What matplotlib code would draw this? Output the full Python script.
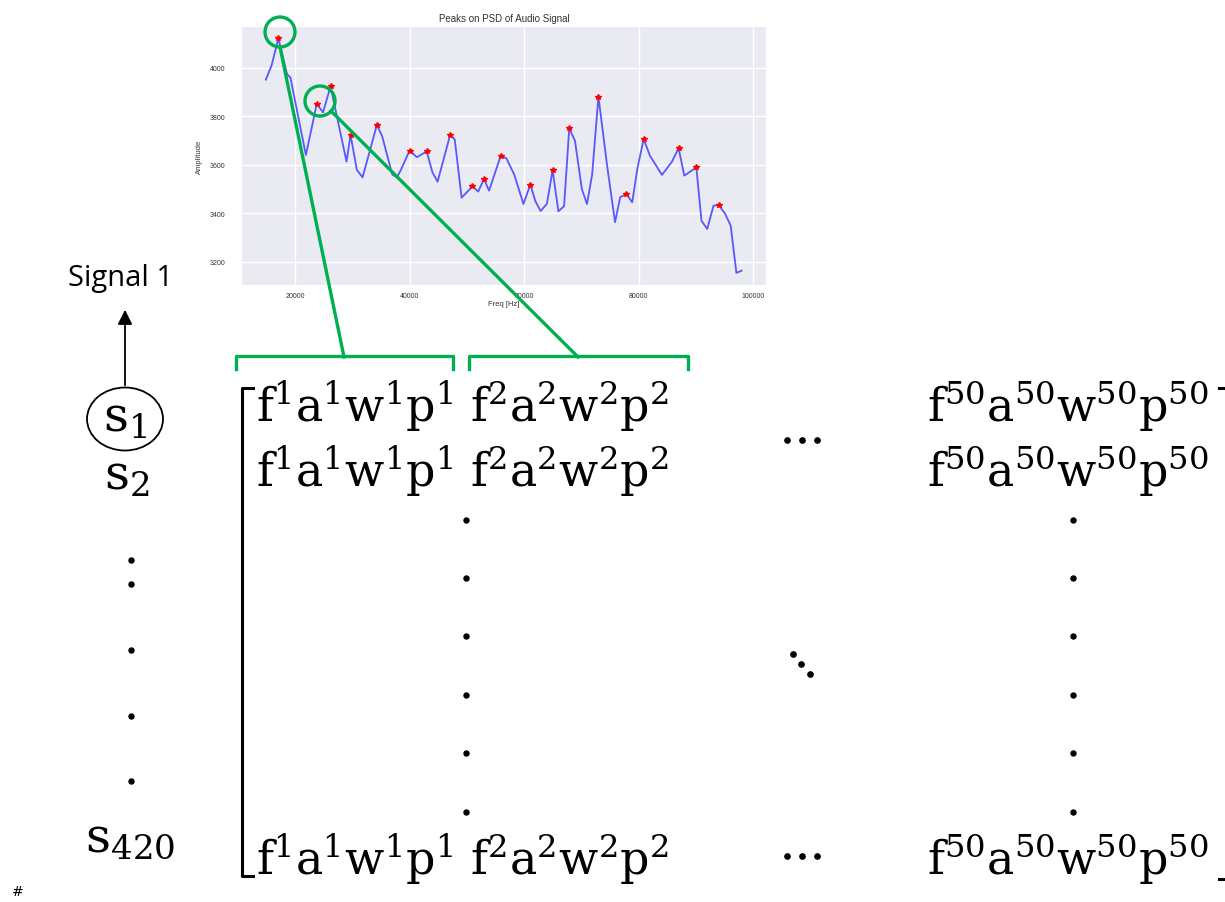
import numpy as np
import matplotlib.pyplot as plt
from matplotlib.patches import Ellipse, Circle

# PSD curve
freq = [14900, 15900, 17100, 18600, 19200, 21900, 23800, 24900, 26200, 29000,
        29700, 30800, 31800, 34300, 35200, 37000, 37800, 38500, 40000, 41300,
        43000, 44000, 44900, 47100, 47900, 49100, 51000, 52000, 53000, 53900,
        55900, 56900, 58300, 59900, 61100, 62000, 62900, 64000, 65000, 66000,
        67000, 67900, 68900, 70100, 71000, 71900, 73000, 74500, 75900, 76800,
        77900, 78900, 79800, 80900, 82000, 84100, 85800, 87000, 88000, 90100,
        91000, 92000, 93100, 94000, 95100, 96100, 97100, 98000]
amp = [3952, 4010, 4122, 3975, 3960, 3641, 3852, 3817, 3924, 3614,
       3724, 3580, 3549, 3765, 3720, 3560, 3549, 3580, 3659, 3632,
       3656, 3570, 3531, 3724, 3705, 3465, 3512, 3490, 3542, 3494,
       3636, 3628, 3560, 3439, 3519, 3450, 3410, 3440, 3579, 3409,
       3430, 3751, 3700, 3501, 3439, 3560, 3882, 3600, 3364, 3467,
       3480, 3446, 3585, 3707, 3638, 3559, 3612, 3669, 3556, 3590,
       3370, 3336, 3432, 3435, 3400, 3350, 3155, 3164]
peak_idx = [2, 6, 8, 10, 13, 18, 20, 23, 26, 28, 30, 34, 38, 41, 46, 50, 53, 57, 59, 63]

x_ticks = [20000, 40000, 60000, 80000, 100000]
y_ticks = [3200, 3400, 3600, 3800, 4000]

# matrix text
row_left = r'$\mathrm{f}^{1}\mathrm{a}^{1}\mathrm{w}^{1}\mathrm{p}^{1}$'
row_mid = r'$\mathrm{f}^{2}\mathrm{a}^{2}\mathrm{w}^{2}\mathrm{p}^{2}$'
row_right = r'$\mathrm{f}^{50}\mathrm{a}^{50}\mathrm{w}^{50}\mathrm{p}^{50}$'
signals = [r'$\mathrm{s}_{1}$', r'$\mathrm{s}_{2}$', r'$\mathrm{s}_{420}$']

plt.rcParams['mathtext.fontset'] = 'dejavuserif'
green = '#00b050'

fig = plt.figure(figsize=(12.25, 9.03), dpi=100)

# --- inset: peaks on PSD ---
ax = fig.add_axes([242 / 1225, 1 - 286 / 903, 524 / 1225, 258 / 903])
ax.set_facecolor('#eaeaf2')
ax.grid(True, color='white', lw=1)
ax.set_axisbelow(True)
for s in ax.spines.values():
    s.set_visible(False)
fa = np.array(freq)
aa = np.array(amp)
ax.plot(fa, aa, color='#3333ff', lw=1.3, alpha=0.8)
ax.plot(fa[peak_idx], aa[peak_idx], '*', color='red', ms=4)
ax.set_xlim(10740, 102270)
ax.set_ylim(3105, 4169)
ax.set_xticks(x_ticks)
ax.set_yticks(y_ticks)
ax.tick_params(length=0, labelsize=5, colors='#333333')
ax.tick_params(axis='y', pad=12)
ax.tick_params(axis='x', pad=5)
for lab in ax.get_xticklabels() + ax.get_yticklabels():
    lab.set_family('Liberation Sans')
ax.set_title('Peaks on PSD of Audio Signal', fontsize=7, family='Liberation Sans',
             color='#333333', pad=4)
ax.set_xlabel('Freq [Hz]', fontsize=5.5, family='Liberation Sans', color='#333333', labelpad=1)
ax.set_ylabel('Amplitude', fontsize=5.5, family='Liberation Sans', color='#333333', labelpad=5)

# --- overlay in pixel units ---
ov = fig.add_axes([0, 0, 1, 1])
ov.set_xlim(0, 1225)
ov.set_ylim(903, 0)
ov.axis('off')

# green zoom markers
ov.add_patch(Circle((280, 33), 15, fill=False, ec=green, lw=2.4))
ov.add_patch(Circle((320, 102), 15, fill=False, ec=green, lw=2.4))
ov.plot([280, 344], [48, 358], color=green, lw=2.4)
ov.plot([331, 578], [112, 358], color=green, lw=2.4)
ov.plot([236, 236, 453, 453], [370, 357, 357, 370], color=green, lw=2.4)
ov.plot([469, 469, 688, 688], [370, 357, 357, 370], color=green, lw=2.4)

# signal label with arrow and circled s1
ov.text(121, 286, 'Signal 1', fontsize=21, family='Open Sans', ha='center', va='baseline')
ov.annotate('', xy=(125, 308), xytext=(125, 389),
            arrowprops=dict(arrowstyle='-|>', color='black', lw=1.3, mutation_scale=22))
ov.add_patch(Ellipse((125, 420), 76, 63, fill=False, ec='black', lw=1.3))
ov.text(125, 432, signals[0], fontsize=35, ha='center', va='baseline')
ov.text(127, 490, signals[1], fontsize=35, ha='center', va='baseline')
ov.text(130, 852, signals[2], fontsize=35, ha='center', va='baseline')
ov.plot([131] * 5, [561, 585, 651, 717, 782], 'o', color='black', ms=3.6)

# left bracket
ov.plot([253, 242, 242, 253], [389, 389, 877, 877], color='black', lw=2.2)
# right bracket (mostly off the canvas)
ov.plot([1219, 1230, 1230, 1219], [389, 389, 880, 880], color='black', lw=2.2)

# matrix rows
for yb in [422, 487, 875]:
    ov.text(256, yb, row_left, fontsize=33, ha='left', va='baseline')
    ov.text(470, yb, row_mid, fontsize=33, ha='left', va='baseline')
    ov.text(927, yb, row_right, fontsize=33, ha='left', va='baseline')

col_dots = [521, 579, 637, 696, 754, 813]
ov.plot([466] * 6, col_dots, 'o', color='black', ms=3.6)
ov.plot([1073] * 6, col_dots, 'o', color='black', ms=3.6)
ov.plot([787, 802, 817], [441, 441, 441], 'o', color='black', ms=3.8)
ov.plot([787, 802, 817], [857, 857, 857], 'o', color='black', ms=3.8)
ov.plot([793, 801, 810], [655, 665, 675], 'o', color='black', ms=3.8)

ov.text(12, 896, '#', fontsize=10, family='DejaVu Sans', ha='left', va='baseline')

fig.savefig('out.png', dpi=100)
